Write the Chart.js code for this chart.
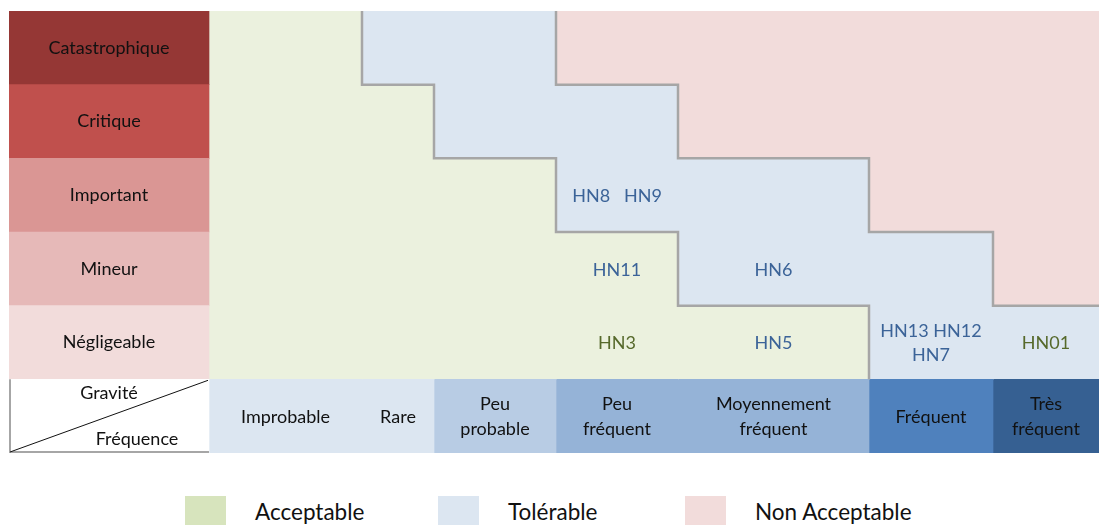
<!DOCTYPE html>
<html lang="fr">
<head>
<meta charset="utf-8">
<title>Matrice de criticité</title>
<script src="https://cdn.jsdelivr.net/npm/chart.js@4/dist/chart.umd.min.js"></script>
<style>
    body { margin: 0; background: #ffffff; font-family: Lato, "Open Sans", sans-serif; }
    #wrap { position: relative; width: 1099px; height: 453px; }
    #legende { position: relative; width: 1099px; height: 72px; overflow: hidden; }
    .item { position: absolute; top: 43px; display: flex; align-items: center; }
    .boite { width: 41px; height: 30px; margin-right: 29px; }
    .item span { font-size: 22.5px; color: #111; }
</style>
</head>
<body>
<div id="wrap"><canvas id="matrice"></canvas></div>
<div id="legende"></div>

<script>
// Matrice gravité / fréquence

// lignes (gravité) et colonnes (fréquence)
const gravites = ['Catastrophique', 'Critique', 'Important', 'Mineur', 'Négligeable'];
const frequences = ['Improbable', 'Rare', 'Peu probable', 'Peu fréquent', 'Moyennement fréquent', 'Fréquent', 'Très fréquent'];
// largeur de chaque classe de fréquence sur l'axe
const largeursFreq = [153, 72, 122, 122, 191, 124, 106];
const largeurGravite = 200;

// dernière colonne (1..7) de chaque zone, par ligne de gravité
const acceptableJusqua = [1, 2, 3, 4, 5];
const tolerableJusqua = [3, 4, 5, 6, 7];

// événements redoutés placés dans la matrice
const dangers = [
    ['Important', 'Peu fréquent', ['HN8', 'HN9']],
    ['Mineur', 'Peu fréquent', ['HN11']],
    ['Mineur', 'Moyennement fréquent', ['HN6']],
    ['Négligeable', 'Peu fréquent', ['HN3']],
    ['Négligeable', 'Moyennement fréquent', ['HN5']],
    ['Négligeable', 'Fréquent', ['HN13', 'HN12', 'HN7']],
    ['Négligeable', 'Très fréquent', ['HN01']]
];

const zones = ['Acceptable', 'Tolérable', 'Non Acceptable'];

// couleurs
const couleursGravite = ['#953735', '#c0504d', '#da9694', '#e6b9b8', '#f2dcdb'];
const couleursFreq = ['#dce6f1', '#dce6f1', '#b8cce4', '#95b3d7', '#95b3d7', '#4f81bd', '#366092'];
const couleursZone = { 'Acceptable': '#ebf1de', 'Tolérable': '#dce6f1', 'Non Acceptable': '#f2dcdb' };
const couleursLegende = { 'Acceptable': '#d7e4bd', 'Tolérable': '#dce6f1', 'Non Acceptable': '#f2dcdb' };
const couleurDanger = '#3b6398';
const couleursDangerSpec = { 'HN3': '#56692b', 'HN01': '#56692b' };

const LIGNE_ENTETE = 'entete';
const lignes = gravites.concat([LIGNE_ENTETE]);
const police = 'Lato, "Open Sans", sans-serif';
const taille = 18;

function zoneDe(ligne, col) {
    if (col <= acceptableJusqua[ligne]) return 'Acceptable';
    if (col <= tolerableJusqua[ligne]) return 'Tolérable';
    return 'Non Acceptable';
}

// une série par colonne, empilée horizontalement
const largeurs = [largeurGravite].concat(largeursFreq);
const datasets = largeurs.map(function(w, col) {
    return {
        label: col === 0 ? 'Gravité' : frequences[col - 1],
        data: lignes.map(() => w),
        backgroundColor: function(ctx) {
            const r = ctx.dataIndex;
            if (r === gravites.length) {
                return col === 0 ? '#ffffff' : couleursFreq[col - 1];
            }
            if (col === 0) return couleursGravite[r];
            return couleursZone[zoneDe(r, col)];
        },
        borderWidth: 0,
        barPercentage: 1,
        categoryPercentage: 1
    };
});

// bornes cumulées des colonnes
function bornes() {
    const b = [0];
    largeurs.forEach(w => b.push(b[b.length - 1] + w));
    return b;
}

function texteMultiligne(ctx, lignesTexte, x, y, interligne) {
    const h0 = y - (lignesTexte.length - 1) * interligne / 2;
    lignesTexte.forEach((t, i) => ctx.fillText(t, x, h0 + i * interligne));
}

function decouper(ctx, mots, largeurMax) {
    const large = mots.join('   ');
    if (ctx.measureText(large).width <= largeurMax) return [large];
    const res = [];
    let cur = '';
    mots.forEach(function(m) {
        const essai = cur ? cur + ' ' + m : m;
        if (cur && ctx.measureText(essai).width > largeurMax) {
            res.push(cur);
            cur = m;
        } else {
            cur = essai;
        }
    });
    if (cur) res.push(cur);
    return res;
}

const pluginMatrice = {
    id: 'matrice',
    afterDatasetsDraw(chart) {
        const ctx = chart.ctx;
        const xs = chart.scales.x;
        const ys = chart.scales.y;
        const b = bornes();
        const area = chart.chartArea;
        const haut = (ys.getPixelForValue(1) - ys.getPixelForValue(0));
        const limite = r => ys.getPixelForValue(r) - haut / 2; // haut de la ligne r
        const cx = c => xs.getPixelForValue((b[c] + b[c + 1]) / 2);

        ctx.save();
        ctx.textAlign = 'center';
        ctx.textBaseline = 'middle';

        // libellés de gravité
        ctx.font = taille + 'px ' + police;
        ctx.fillStyle = '#111111';
        gravites.forEach(function(g, r) {
            ctx.fillText(g, cx(0), ys.getPixelForValue(r));
        });

        // en-têtes de fréquence
        const rE = gravites.length;
        frequences.forEach(function(f, i) {
            texteMultiligne(ctx, f.split(' '), cx(i + 1), ys.getPixelForValue(rE) + 1, 25);
        });

        // case d'angle
        const x0 = xs.getPixelForValue(0);
        const x1 = xs.getPixelForValue(b[1]);
        const y0 = limite(rE);
        const y1 = area.bottom - 1;
        ctx.strokeStyle = '#a6a6a6';
        ctx.lineWidth = 2;
        ctx.beginPath();
        ctx.moveTo(x0 + 1, y0);
        ctx.lineTo(x0 + 1, y1);
        ctx.lineTo(x1, y1);
        ctx.stroke();
        ctx.strokeStyle = '#111111';
        ctx.lineWidth = 1;
        ctx.beginPath();
        ctx.moveTo(x0 + 1, y1);
        ctx.lineTo(x1 - 1, y0 + 1);
        ctx.stroke();
        ctx.fillText('Gravité', x0 + (x1 - x0) * 0.5, y0 + 14);
        ctx.fillText('Fréquence', x0 + (x1 - x0) * 0.64, y1 - 13);

        // frontières entre zones (en escalier)
        ctx.strokeStyle = '#a6a6a6';
        ctx.lineWidth = 2.5;
        [acceptableJusqua, tolerableJusqua].forEach(function(lim) {
            ctx.beginPath();
            lim.forEach(function(c, r) {
                const x = xs.getPixelForValue(b[c + 1]);
                if (r === 0) ctx.moveTo(x, area.top);
                else ctx.lineTo(x, limite(r));
                // pas de trait vertical sur le bord droit
                if (c < frequences.length) ctx.lineTo(x, limite(r + 1));
            });
            ctx.stroke();
        });

        // événements redoutés
        ctx.font = taille + 'px ' + police;
        dangers.forEach(function(d) {
            const r = gravites.indexOf(d[0]);
            const c = frequences.indexOf(d[1]) + 1;
            const w = xs.getPixelForValue(b[c + 1]) - xs.getPixelForValue(b[c]);
            ctx.fillStyle = couleursDangerSpec[d[2][0]] || couleurDanger;
            const t = decouper(ctx, d[2], w - 14);
            texteMultiligne(ctx, t, cx(c), ys.getPixelForValue(r) + 1, 24);
        });

        ctx.restore();
    }
};

function initMatrice() {
    const el = document.getElementById('matrice');
    new Chart(el, {
        type: 'bar',
        data: {
            labels: lignes,
            datasets: datasets
        },
        options: {
            indexAxis: 'y',
            responsive: true,
            maintainAspectRatio: false,
            animation: false,
            events: [],
            layout: {
                padding: { left: 9, top: 11, right: 0, bottom: 0 }
            },
            scales: {
                x: {
                    type: 'linear',
                    stacked: true,
                    min: 0,
                    max: largeurs.reduce((a, v) => a + v, 0),
                    display: false
                },
                y: {
                    stacked: true,
                    display: false
                }
            },
            plugins: {
                legend: { display: false },
                tooltip: { enabled: false }
            }
        },
        plugins: [pluginMatrice]
    });
}

// légende des zones
function initLegende() {
    const cont = document.getElementById('legende');
    const positions = [185, 438, 685];
    zones.forEach(function(z, i) {
        const item = document.createElement('div');
        item.className = 'item';
        item.style.left = positions[i] + 'px';
        const boite = document.createElement('div');
        boite.className = 'boite';
        boite.style.background = couleursLegende[z];
        const txt = document.createElement('span');
        txt.textContent = z;
        item.appendChild(boite);
        item.appendChild(txt);
        cont.appendChild(item);
    });
}

document.addEventListener('DOMContentLoaded', function() {
    initMatrice();
    initLegende();
});
</script>
</body>
</html>
